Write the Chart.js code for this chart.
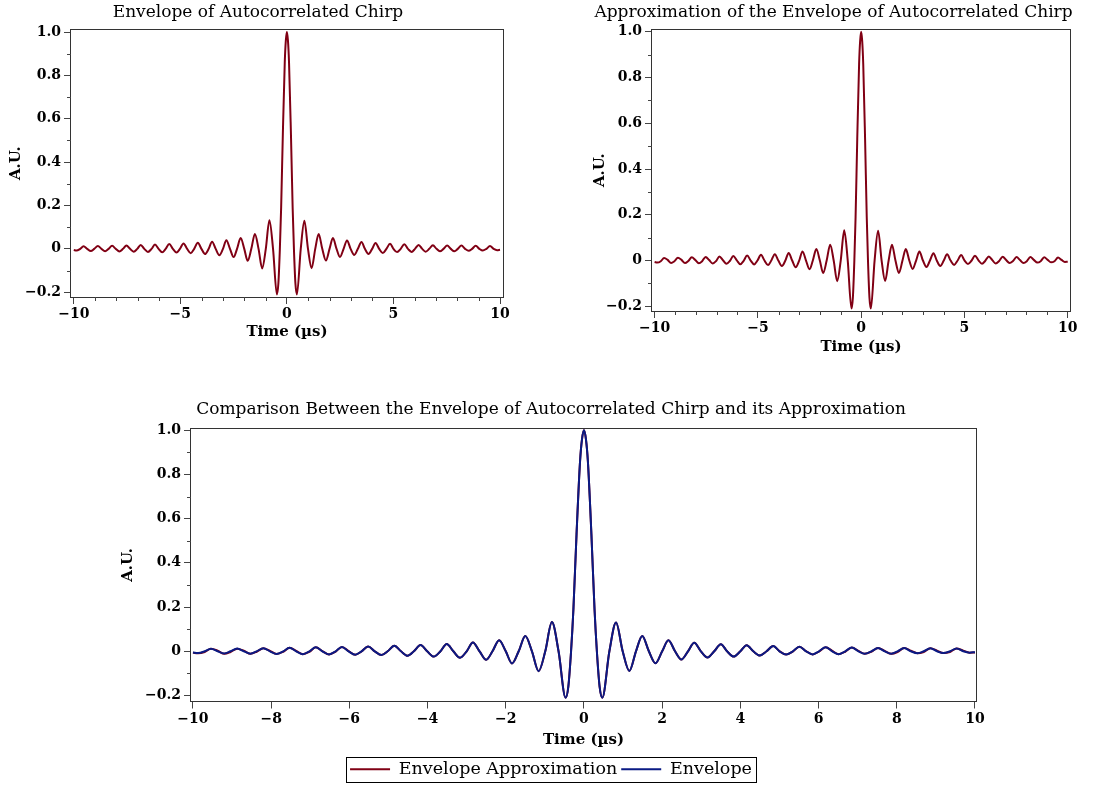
<!DOCTYPE html>
<html>
<head>
<meta charset="utf-8">
<script src="https://cdn.jsdelivr.net/npm/chart.js@4.4.0/dist/chart.umd.min.js"></script>
<style>
body { margin: 0; background: #fff; }
canvas { position: absolute; }
</style>
</head>
<body>
<canvas id="envChart" width="516" height="345" style="left:0;top:0"></canvas>
<canvas id="approxChart" width="537" height="360" style="left:565px;top:0"></canvas>
<canvas id="compChart" width="1102" height="395" style="left:0;top:390px"></canvas>
<script>
// time in microseconds (extrema and zero crossings)
const timeUs = [
  -10, -9.87, -9.7, -9.54, -9.37, -9.2, -9.04, -8.87, -8.7, -8.53, -8.37, -8.2, -8.03,
  -7.86, -7.69, -7.53, -7.36, -7.19, -7.02, -6.86, -6.69, -6.52, -6.35, -6.19, -6.02,
  -5.85, -5.69, -5.52, -5.35, -5.18, -5.02, -4.85, -4.68, -4.51, -4.35, -4.18, -4.01,
  -3.84, -3.67, -3.51, -3.34, -3.17, -3.0, -2.84, -2.67, -2.5, -2.34, -2.17, -2.0,
  -1.84, -1.67, -1.5, -1.33, -1.16, -0.99, -0.82, -0.65, -0.47, -0.4, -0.33, -0.27,
  -0.19, -0.1, -0.05, 0,
  0.05, 0.1, 0.19, 0.27, 0.33, 0.4, 0.47, 0.65, 0.82, 0.99, 1.16, 1.33, 1.49, 1.66,
  1.83, 2.0, 2.16, 2.33, 2.49, 2.66, 2.82, 2.99, 3.16, 3.33, 3.5, 3.66, 3.83, 4.0,
  4.16, 4.33, 4.5, 4.67, 4.84, 5.0, 5.17, 5.34, 5.51, 5.68, 5.85, 6.01, 6.18, 6.35,
  6.51, 6.68, 6.85, 7.02, 7.18, 7.35, 7.52, 7.69, 7.86, 8.02, 8.19, 8.36, 8.53, 8.69,
  8.86, 9.03, 9.19, 9.36, 9.53, 9.7, 9.86, 10
];

// envelope of the autocorrelated chirp (A.U.)
const envelope = [
  -0.005, -0.008, 0, 0.012, 0, -0.010, 0, 0.013, 0, -0.011, 0, 0.014, 0,
  -0.012, 0, 0.016, 0, -0.013, 0, 0.018, 0, -0.014, 0, 0.020, 0,
  -0.016, 0, 0.022, 0, -0.017, 0, 0.025, 0, -0.020, 0, 0.028, 0,
  -0.024, 0, 0.033, 0, -0.029, 0, 0.040, 0, -0.038, 0, 0.050, 0,
  -0.055, 0, 0.069, 0, -0.090, 0, 0.132, 0, -0.210, -0.160, 0, 0.190,
  0.530, 0.860, 0.960, 1.0,
  0.960, 0.860, 0.530, 0.190, 0, -0.160, -0.210, 0, 0.130, 0, -0.089, 0, 0.069, 0,
  -0.054, 0, 0.050, 0, -0.037, 0, 0.039, 0, -0.028, 0, 0.032, 0, -0.024, 0,
  0.027, 0, -0.019, 0, 0.024, 0, -0.015, 0, 0.021, 0, -0.014, 0, 0.018, 0,
  -0.013, 0, 0.017, 0, -0.011, 0, 0.015, 0, -0.011, 0, 0.015, 0, -0.009, 0,
  0.014, 0, -0.008, 0, 0.013, 0, -0.006, -0.004
];

// approximation of the envelope (A.U.), drifts a little in the tails
const approx = [
  -0.006, -0.009, -0.003, 0.011, 0.003, -0.011, -0.003, 0.012, 0.003, -0.011, -0.002, 0.014, 0.002,
  -0.012, -0.002, 0.016, 0.002, -0.013, -0.002, 0.018, 0.001, -0.014, -0.001, 0.020, 0.001,
  -0.016, -0.001, 0.022, 0, -0.017, 0, 0.025, 0, -0.020, 0, 0.028, 0,
  -0.024, 0, 0.033, 0, -0.029, 0, 0.040, 0, -0.038, 0, 0.050, 0,
  -0.055, 0, 0.069, 0, -0.090, 0, 0.132, 0, -0.210, -0.160, 0, 0.190,
  0.530, 0.860, 0.960, 1.0,
  0.960, 0.860, 0.530, 0.190, 0, -0.160, -0.210, 0, 0.130, 0, -0.089, 0, 0.069, 0,
  -0.054, 0, 0.050, 0, -0.037, 0, 0.039, 0, -0.028, 0, 0.032, 0, -0.024, 0,
  0.027, 0, -0.019, 0, 0.024, 0.001, -0.015, -0.001, 0.021, 0.001, -0.014, -0.001, 0.018, 0.002,
  -0.013, -0.002, 0.017, 0.002, -0.011, -0.002, 0.015, 0.002, -0.011, -0.003, 0.015, 0.003, -0.009, -0.003,
  0.014, 0.003, -0.008, -0.003, 0.013, 0.003, -0.006, -0.005
];

const xTicksTop = [-10, -9, -8, -7, -6, -5, -4, -3, -2, -1, 0, 1, 2, 3, 4, 5, 6, 7, 8, 9, 10];
const xLabelsTop = [-10, -5, 0, 5, 10];
const xTicksBottom = [-10, -8, -6, -4, -2, 0, 2, 4, 6, 8, 10];
const yTicks = [-0.2, -0.1, 0, 0.1, 0.2, 0.3, 0.4, 0.5, 0.6, 0.7, 0.8, 0.9, 1.0];
const yLabels = [-0.2, 0, 0.2, 0.4, 0.6, 0.8, 1.0];

const RED = '#800014';
const BLUE = '#0a1a84';
const FONT = "'DejaVu Serif', serif";

function pts(vals) {
    return timeUs.map((t, i) => ({x: t, y: vals[i]}));
}

function fmtX(v, labelled) {
    if (!labelled.includes(v)) return '';
    return v < 0 ? '\u2212' + (-v) : String(v);
}
function fmtY(v) {
    var r = Math.round(v * 10) / 10;
    if (!yLabels.some(l => Math.abs(l - r) < 1e-9)) return '';
    if (r === 0) return '0';
    return (r < 0 ? '\u2212' : '') + Math.abs(r).toFixed(1);
}

// major ticks come from the grid, unlabelled ones are hidden there and drawn short here
const majorTickColor = c => (c.tick && c.tick.label === '') ? 'rgba(0,0,0,0)' : '#444';

// box round the plot area, short minor ticks, and a box round the legend
const framePlugin = {
    id: 'frame',
    afterDraw(chart) {
        const a = chart.chartArea, ctx = chart.ctx;
        ctx.save();
        ctx.strokeStyle = '#333';
        ctx.lineWidth = 1;
        ctx.strokeRect(Math.round(a.left) - 0.5, Math.round(a.top) + 0.5,
            Math.round(a.right - a.left) + 1, Math.round(a.bottom - a.top));

        ctx.strokeStyle = '#444';
        ctx.beginPath();
        chart.scales.x.ticks.forEach(t => {
            if (t.label !== '') return;
            const px = Math.round(chart.scales.x.getPixelForValue(t.value)) + 0.5;
            ctx.moveTo(px, Math.round(a.bottom));
            ctx.lineTo(px, Math.round(a.bottom) + 4);
        });
        chart.scales.y.ticks.forEach(t => {
            if (t.label !== '') return;
            const py = Math.round(chart.scales.y.getPixelForValue(t.value)) + 0.5;
            ctx.moveTo(Math.round(a.left), py);
            ctx.lineTo(Math.round(a.left) - 4, py);
        });
        ctx.stroke();

        const lg = chart.legend;
        if (lg && lg.options.display && lg.legendHitBoxes && lg.legendHitBoxes.length) {
            const hb = lg.legendHitBoxes;
            const last = hb[hb.length - 1];
            const x0 = hb[0].left - 4;
            const x1 = last.left + last.width + 4;
            const cy = hb[0].top + hb[0].height / 2;
            ctx.strokeStyle = '#000';
            ctx.strokeRect(Math.round(x0) + 0.5, Math.round(cy - 12) + 0.5, Math.round(x1 - x0), 25);
        }
        ctx.restore();
    }
};

function makeChart(id, o) {
    const ctx = document.getElementById(id).getContext('2d');
    return new Chart(ctx, {
        type: 'line',
        data: {datasets: o.datasets},
        options: {
            responsive: false,
            animation: false,
            devicePixelRatio: 1,
            layout: {padding: {left: 0, right: 0, top: 0, bottom: o.padBottom || 0}},
            elements: {point: {radius: 0}, line: {borderWidth: 2, cubicInterpolationMode: 'monotone'}},
            plugins: {
                title: {
                    display: true, text: o.title, color: '#000',
                    font: {family: FONT, size: 17, weight: 'normal'},
                    padding: o.titlePad
                },
                legend: o.legend || {display: false},
                tooltip: {enabled: false}
            },
            scales: {
                x: {
                    type: 'linear', min: o.xMin, max: o.xMax,
                    afterBuildTicks: ax => { ax.ticks = o.xTicks.map(v => ({value: v})); },
                    afterFit: ax => { ax.height = o.xHeight; },
                    grid: {drawOnChartArea: false, tickLength: 7, color: majorTickColor},
                    border: {display: false},
                    ticks: {autoSkip: false, maxRotation: 0, padding: 2, color: '#000',
                        font: {family: FONT, size: 14, weight: 'bold'}, callback: v => fmtX(v, o.xLabels)},
                    title: {display: true, text: 'Time (\u00b5s)', color: '#000',
                        font: {family: FONT, size: 15, weight: 'bold'}, padding: {top: 0, bottom: o.timePad || 4}}
                },
                y: {
                    type: 'linear', min: o.yMin, max: o.yMax,
                    afterBuildTicks: ax => { ax.ticks = yTicks.map(v => ({value: v})); },
                    afterFit: ax => { ax.width = o.yWidth; },
                    grid: {drawOnChartArea: false, tickLength: 7, color: majorTickColor},
                    border: {display: false},
                    ticks: {autoSkip: false, padding: 3, color: '#000',
                        font: {family: FONT, size: 14, weight: 'bold'}, callback: v => fmtY(v)},
                    title: {display: true, text: 'A.U.', color: '#000',
                        font: {family: FONT, size: 15, weight: 'bold'}, padding: {top: o.auPad, bottom: 0}}
                },
                // empty right-hand strip so the title and legend stay centred on the canvas
                yR: {
                    position: 'right', display: true,
                    afterFit: ax => { ax.width = o.rightW; },
                    grid: {display: false}, border: {display: false}, ticks: {display: false}
                }
            }
        },
        plugins: [framePlugin]
    });
}

// top left
makeChart('envChart', {
    title: 'Envelope of Autocorrelated Chirp',
    datasets: [{label: 'Envelope', data: pts(envelope), borderColor: RED, backgroundColor: RED}],
    titlePad: {top: 2, bottom: 7},
    xMin: -10.13, xMax: 10.14, yMin: -0.222, yMax: 1.012,
    xTicks: xTicksTop, xLabels: xLabelsTop, xHeight: 48, yWidth: 71, rightW: 13, auPad: 7
});

// top right
makeChart('approxChart', {
    title: 'Approximation of the Envelope of Autocorrelated Chirp',
    datasets: [{label: 'Envelope Approximation', data: pts(approx), borderColor: RED, backgroundColor: RED}],
    titlePad: {top: 2, bottom: 7},
    xMin: -10.126, xMax: 10.11, yMin: -0.2206, yMax: 1.0105,
    xTicks: xTicksTop, xLabels: xLabelsTop, xHeight: 49, yWidth: 87, rightW: 32, auPad: 26
});

// bottom: both curves, envelope drawn on top
makeChart('compChart', {
    title: 'Comparison Between the Envelope of Autocorrelated Chirp and its Approximation',
    datasets: [
        {label: 'Envelope', data: pts(envelope), borderColor: BLUE, backgroundColor: BLUE},
        {label: 'Envelope Approximation', data: pts(approx), borderColor: RED, backgroundColor: RED}
    ],
    titlePad: {top: 9, bottom: 9},
    padBottom: -3,
    xMin: -10.05, xMax: 10.026, yMin: -0.227, yMax: 1.008,
    xTicks: xTicksBottom, xLabels: xTicksBottom, xHeight: 55, yWidth: 191, rightW: 126, auPad: 119,
    timePad: 7,
    legend: {
        display: true, position: 'bottom',
        labels: {boxWidth: 40, boxHeight: 0, padding: 4, color: '#000',
            font: {family: FONT, size: 17.5},
            sort: (a, b) => b.datasetIndex - a.datasetIndex}
    }
});
</script>
</body>
</html>
